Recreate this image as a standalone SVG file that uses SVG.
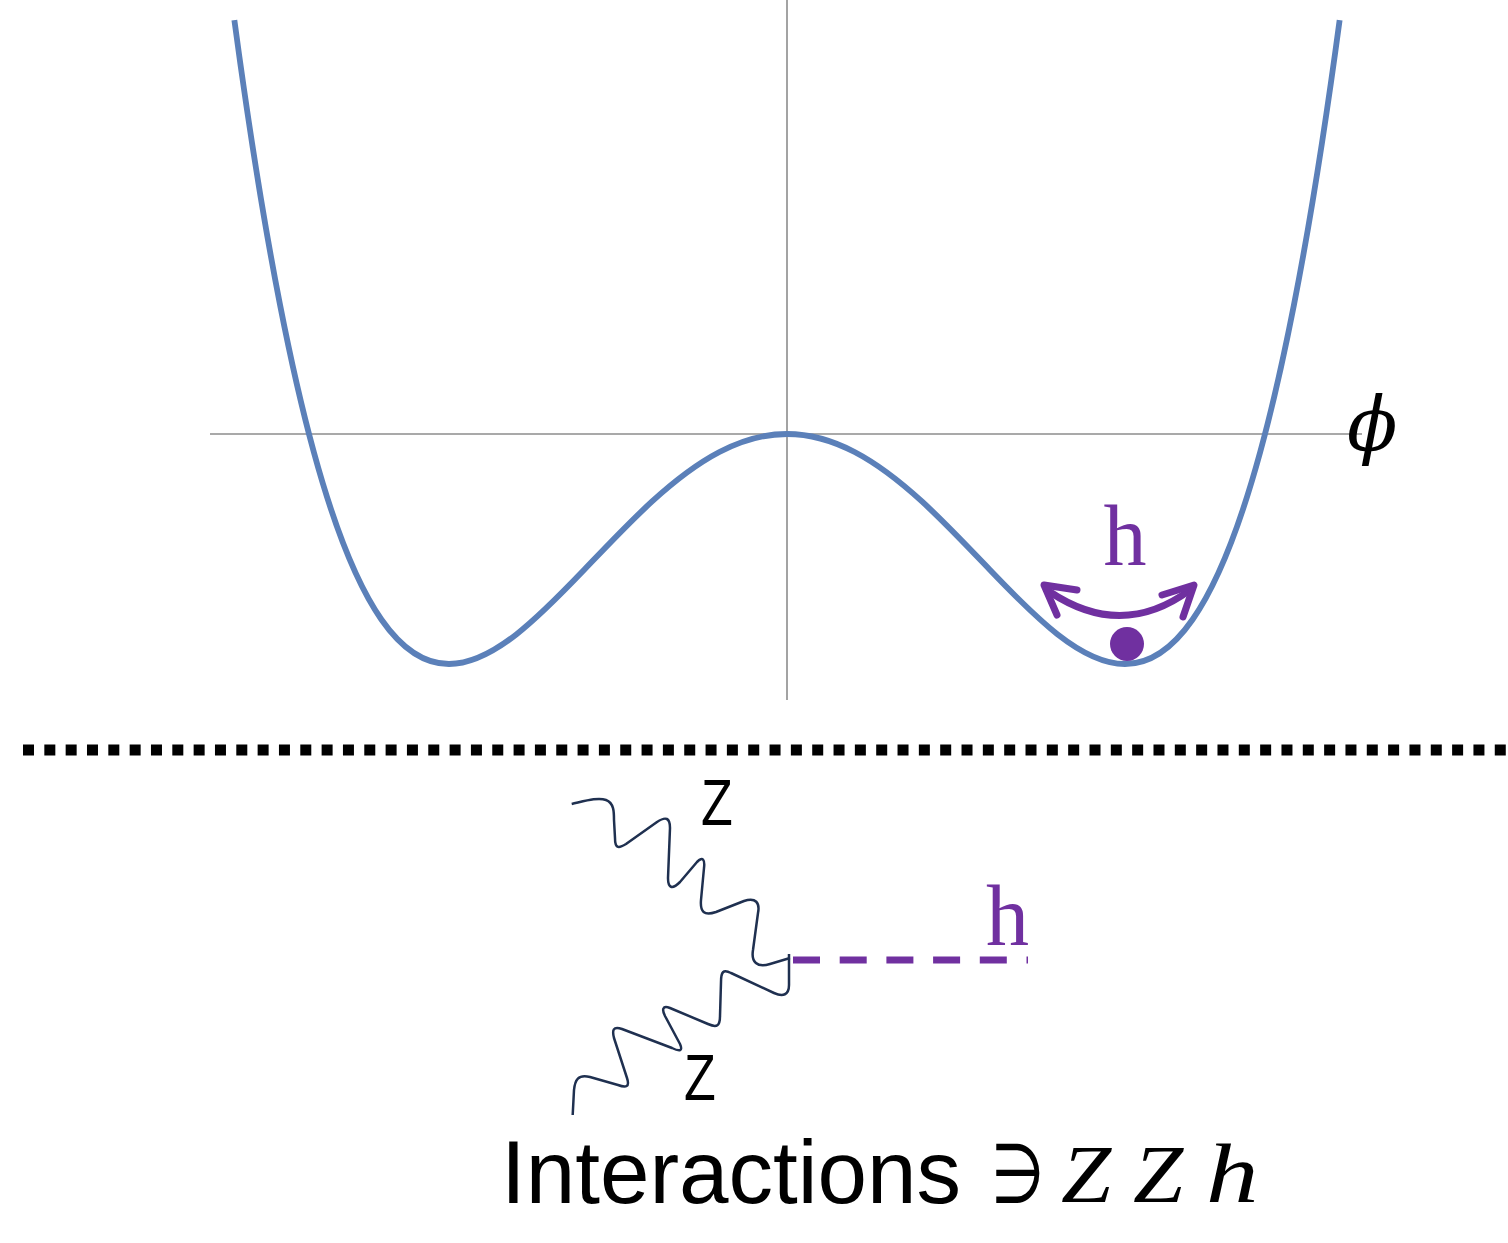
<svg xmlns="http://www.w3.org/2000/svg" width="1508" height="1243" viewBox="0 0 1508 1243">
<style>
.axis{stroke:#8c8c8c;stroke-width:1.6;fill:none}
.pot{stroke:#5b80b9;stroke-width:5.8;fill:none;stroke-linejoin:round;stroke-linecap:butt}
.purple{fill:#7030a0}
.arr{stroke:#7030a0;stroke-width:7;fill:none;stroke-linejoin:round;stroke-linecap:round}
.wave{stroke:#1f3050;stroke-width:2.5;fill:none;stroke-linejoin:round}
.sans{font-family:"Liberation Sans",Arial,sans-serif;fill:#000}
.serif{font-family:"Liberation Serif","Times New Roman",serif}
.ital{font-family:"Liberation Serif","DejaVu Serif",serif;font-style:italic;fill:#000}
</style>
<rect width="1508" height="1243" fill="#fff"/>
<g id="axes">
<line class="axis" x1="210" y1="434" x2="1362" y2="434"/>
<line class="axis" x1="787" y1="0" x2="787" y2="700"/>
</g>
<g id="potential">
<path class="pot" d="M234.37,20.05 C249.58,133.31 264.79,227 280,304.62 C291.27,362.12 302.53,410.81 313.8,452.03 C336.33,534.46 358.87,587.09 381.4,619.47 C403.93,651.85 426.47,664 449,664 C471.53,664 494.07,651.85 516.6,634.19 C539.13,616.53 561.67,593.34 584.2,569.79 C606.73,546.24 629.27,522.32 651.8,501.71 C674.33,481.1 696.87,463.81 719.4,452.03 C741.93,440.25 764.47,434 787,434 C809.53,434 832.07,440.25 854.6,452.03 C877.13,463.81 899.67,481.1 922.2,501.71 C944.73,522.32 967.27,546.24 989.8,569.79 C1012.33,593.34 1034.87,616.53 1057.4,634.19 C1079.93,651.85 1102.47,664 1125,664 C1147.53,664 1170.07,651.85 1192.6,619.47 C1215.13,587.09 1237.67,534.46 1260.2,452.03 C1271.47,410.81 1282.73,362.12 1294,304.62 C1309.21,227 1324.42,133.31 1339.63,20.05"/>
</g>
<g id="phi-label">
<text x="1347" y="450" font-size="74" style="font-family:'DejaVu Serif',serif;font-style:italic;fill:#000">ϕ</text>
</g>
<g id="higgs-oscillation">
<path class="arr" d="M1050,592 Q1122,640 1190,590"/>
<polyline class="arr" points="1077,590 1044,585 1057,615"/>
<polyline class="arr" points="1162,595 1194,585 1183,617"/>
<circle class="purple" cx="1127" cy="644" r="17"/>
<text class="serif purple" x="1125" y="565" font-size="86" text-anchor="middle">h</text>
</g>
<g id="separator">
<line x1="23" y1="750" x2="1508" y2="750" stroke="#000" stroke-width="11" stroke-dasharray="11 10.33"/>
</g>
<g id="connectors">
<path id="z-upper" class="wave" d="M571.7,804 C585,801 598,797 606,800 C614,803 614,812 614,820 L615,838 C615,848 618,849 626,844 L657,822 C666,816 670,818 670,828 L668,878 C668,888 672,890 680,882 L697,862 C703,856 705,860 704,868 L701,900 C700,912 704,916 716,912 L744,901 C756,897 760,903 758,913 L753,950 C751,962 757,968 770,964 L790,958"/>
<path id="z-lower" class="wave" d="M789,954 L789,985 C789,995 783,997 774,993 L731,973 C723,969 721,972 721,982 L720,1016 C720,1026 717,1028 708,1024 L670,1008 C662,1005 662,1010 665,1016 L680,1044 C683,1051 680,1052 672,1048 L622,1029 C613,1026 612,1030 614,1038 L627,1078 C630,1087 626,1088 618,1085 L590,1077 C578,1074 575,1080 574,1090 L572.7,1115"/>
<line id="h-line" x1="793" y1="960" x2="1028" y2="960" stroke="#7030a0" stroke-width="7" stroke-dasharray="27 19.7"/>
</g>
<g id="labels">
<text class="sans" transform="translate(701,825) scale(0.8,1)" font-size="65">Z</text>
<text class="sans" transform="translate(684,1100) scale(0.8,1)" font-size="65">Z</text>
<text class="serif purple" x="1007.5" y="945" font-size="86" text-anchor="middle">h</text>
</g>
<g id="caption">
<text class="sans" x="501" y="1203" font-size="89">Interactions</text>
<text transform="translate(991,1202) scale(0.75,1)" font-size="82" style="font-family:'DejaVu Sans',sans-serif;fill:#000">∋</text>
<text class="ital" transform="translate(1061,1202) scale(1.1,1)" font-size="82">Z</text>
<text class="ital" transform="translate(1133,1202) scale(1.1,1)" font-size="82">Z</text>
<text class="ital" transform="translate(1206,1202) scale(1.25,1)" font-size="84">h</text>
</g>
</svg>
